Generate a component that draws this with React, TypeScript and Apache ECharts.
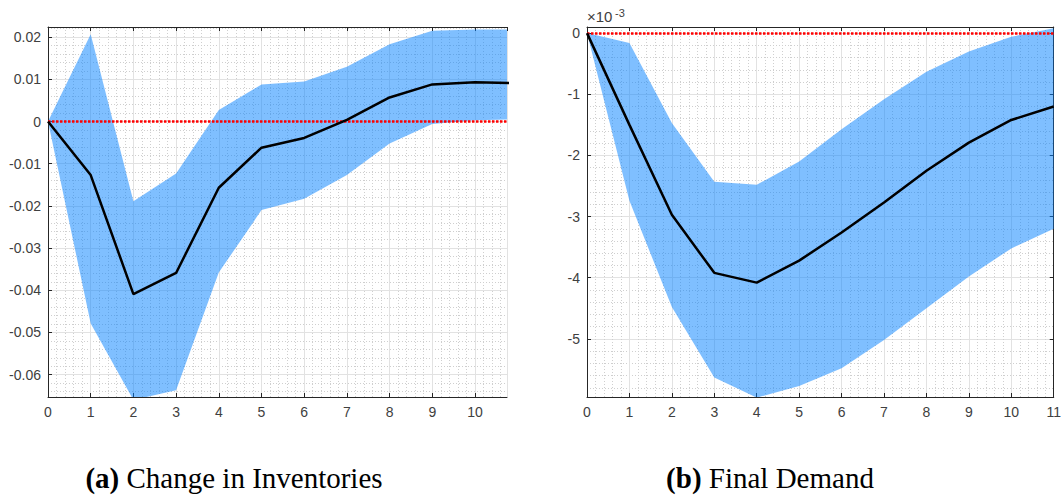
import React, { useEffect, useRef } from "react";
import * as echarts from "echarts";

// Forecast horizon (periods after the shock)
const horizon = [0, 1, 2, 3, 4, 5, 6, 7, 8, 9, 10, 11];

// (a) Change in inventories: median response and credible band
const invMedian = [0, -0.0127, -0.0409, -0.0359, -0.0157, -0.0062, -0.0039, 0.0004, 0.0057, 0.0088, 0.0093, 0.0091];
const invUpper = [0, 0.0207, -0.0189, -0.0123, 0.0027, 0.0088, 0.0095, 0.013, 0.0183, 0.0215, 0.0218, 0.0218];
const invLower = [0, -0.0479, -0.066, -0.0637, -0.0358, -0.021, -0.0183, -0.0127, -0.0052, -0.0006, 0.0003, 0.0005];

// (b) Final demand, in units of 1e-3
const fdMedian = [0, -1.5, -2.97, -3.92, -4.08, -3.72, -3.26, -2.77, -2.25, -1.79, -1.42, -1.2];
const fdUpper = [0, -0.16, -1.47, -2.43, -2.48, -2.1, -1.57, -1.08, -0.63, -0.3, -0.06, 0.08];
const fdLower = [0, -2.74, -4.48, -5.63, -5.96, -5.77, -5.48, -5.02, -4.5, -3.98, -3.52, -3.2];

const captionA = "Change in Inventories";
const captionB = "Final Demand";

const AXIS = "#262626";
const LABEL = "#404040";
const SANS = "Liberation Sans, Arial, sans-serif";
const SERIF = "Liberation Serif, Times New Roman, serif";
const BAND = "rgba(0, 128, 255, 0.5)";

function pairs(ys: number[]) {
  return horizon.map((x, i) => [x, ys[i]]);
}

function bottomAxis(gridIndex: number, max: number, hideMax: boolean) {
  return {
    type: "value",
    gridIndex,
    min: 0,
    max,
    interval: 1,
    axisLine: { show: true, onZero: false, lineStyle: { color: AXIS, width: 1 } },
    axisTick: { show: true, inside: true, length: 4, lineStyle: { color: AXIS } },
    axisLabel: { color: LABEL, fontSize: 14, fontFamily: SANS, margin: 8, showMaxLabel: !hideMax },
    splitLine: { show: true, lineStyle: { color: "#e2e2e2", width: 1 } },
    minorTick: { show: false, splitNumber: 5 },
    minorSplitLine: { show: true, lineStyle: { color: "#cfcfcf", type: [1, 2], width: 1 } },
  };
}

function topAxis(gridIndex: number, max: number) {
  return {
    type: "value",
    gridIndex,
    position: "top",
    min: 0,
    max,
    interval: 1,
    axisLine: { show: true, onZero: false, lineStyle: { color: AXIS, width: 1 } },
    axisTick: { show: true, inside: true, length: 4, lineStyle: { color: AXIS } },
    axisLabel: { show: false },
    splitLine: { show: false },
  };
}

function leftAxis(gridIndex: number, min: number, max: number, step: number) {
  return {
    type: "value",
    gridIndex,
    min,
    max,
    minInterval: step,
    maxInterval: step,
    splitNumber: 9,
    axisLine: { show: true, onZero: false, lineStyle: { color: AXIS, width: 1 } },
    axisTick: { show: true, inside: true, length: 4, lineStyle: { color: AXIS } },
    axisLabel: { color: LABEL, fontSize: 14, fontFamily: SANS, margin: 7, showMinLabel: false, showMaxLabel: false },
    splitLine: { show: true, lineStyle: { color: "#e2e2e2", width: 1 } },
    minorTick: { show: false, splitNumber: 5 },
    minorSplitLine: { show: true, lineStyle: { color: "#cfcfcf", type: [1, 2], width: 1 } },
  };
}

function rightAxis(gridIndex: number, min: number, max: number, step: number) {
  return {
    type: "value",
    gridIndex,
    position: "right",
    min,
    max,
    minInterval: step,
    maxInterval: step,
    splitNumber: 9,
    axisLine: { show: true, onZero: false, lineStyle: { color: AXIS, width: 1 } },
    axisTick: { show: true, inside: true, length: 4, lineStyle: { color: AXIS } },
    axisLabel: { show: false },
    splitLine: { show: false },
  };
}

// Credible band drawn as one polygon: upper edge left to right, lower edge back
function bandSeries(axisIndex: number, upper: number[], lower: number[]) {
  return {
    type: "custom",
    xAxisIndex: axisIndex,
    yAxisIndex: axisIndex,
    clip: true,
    silent: true,
    z: 2,
    data: horizon.map((x, i) => [x, upper[i], lower[i]]),
    encode: { x: 0, y: [1, 2] },
    renderItem: (params: any, api: any) => {
      if (params.dataIndex !== 0) return null;
      const top = horizon.map((x, i) => api.coord([x, upper[i]]));
      const bottom = horizon.map((x, i) => api.coord([x, lower[i]])).reverse();
      return {
        type: "polygon",
        shape: { points: top.concat(bottom) },
        style: { fill: BAND, stroke: "none" },
      };
    },
  };
}

function medianSeries(axisIndex: number, median: number[]) {
  return {
    type: "line",
    xAxisIndex: axisIndex,
    yAxisIndex: axisIndex,
    data: pairs(median),
    symbol: "none",
    lineStyle: { color: "#000000", width: 2.5 },
    z: 4,
    markLine: {
      silent: true,
      symbol: ["none", "none"],
      label: { show: false },
      lineStyle: { color: "#ff0000", type: [2.5, 1.5], width: 2.5 },
      data: [{ yAxis: 0 }],
      z: 3,
    },
  };
}

function caption(x: number, tag: string, text: string) {
  return {
    type: "text",
    x,
    y: 478,
    style: {
      text: `{b|${tag}} ${text}`,
      fill: "#000000",
      font: `29px ${SERIF}`,
      textAlign: "center",
      textVerticalAlign: "middle",
      rich: { b: { fontWeight: "bold", fontSize: 29, fontFamily: SERIF, fill: "#000000" } },
    },
  };
}

export default function App() {
  const ref = useRef<HTMLDivElement>(null);

  useEffect(() => {
    if (!ref.current) return;
    const chart = echarts.init(ref.current, undefined, { renderer: "svg" });
    chart.setOption({
      animation: false,
      backgroundColor: "#ffffff",
      grid: [
        { left: 48, top: 27, width: 459, height: 370 },
        { left: 587, top: 27, width: 468, height: 370 },
      ],
      xAxis: [bottomAxis(0, 10.75, true), bottomAxis(1, 11, false), topAxis(0, 10.75), topAxis(1, 11)],
      yAxis: [leftAxis(0, -0.0653, 0.0224, 0.01), leftAxis(1, -5.95, 0.1, 1), rightAxis(1, -5.95, 0.1, 1)],
      series: [
        bandSeries(0, invUpper, invLower),
        medianSeries(0, invMedian),
        bandSeries(1, fdUpper, fdLower),
        medianSeries(1, fdMedian),
      ],
      graphic: [
        {
          type: "text",
          x: 587,
          y: 24,
          style: { text: "×10", fill: LABEL, font: `15px ${SANS}`, textVerticalAlign: "bottom" },
        },
        {
          type: "text",
          x: 615,
          y: 18,
          style: { text: "-3", fill: LABEL, font: `11px ${SANS}`, textVerticalAlign: "bottom" },
        },
        caption(234, "(a)", captionA),
        caption(770, "(b)", captionB),
      ],
    });
    return () => chart.dispose();
  }, []);

  return <div ref={ref} style={{ position: "fixed", left: 0, top: 0, width: 1064, height: 496 }} />;
}
